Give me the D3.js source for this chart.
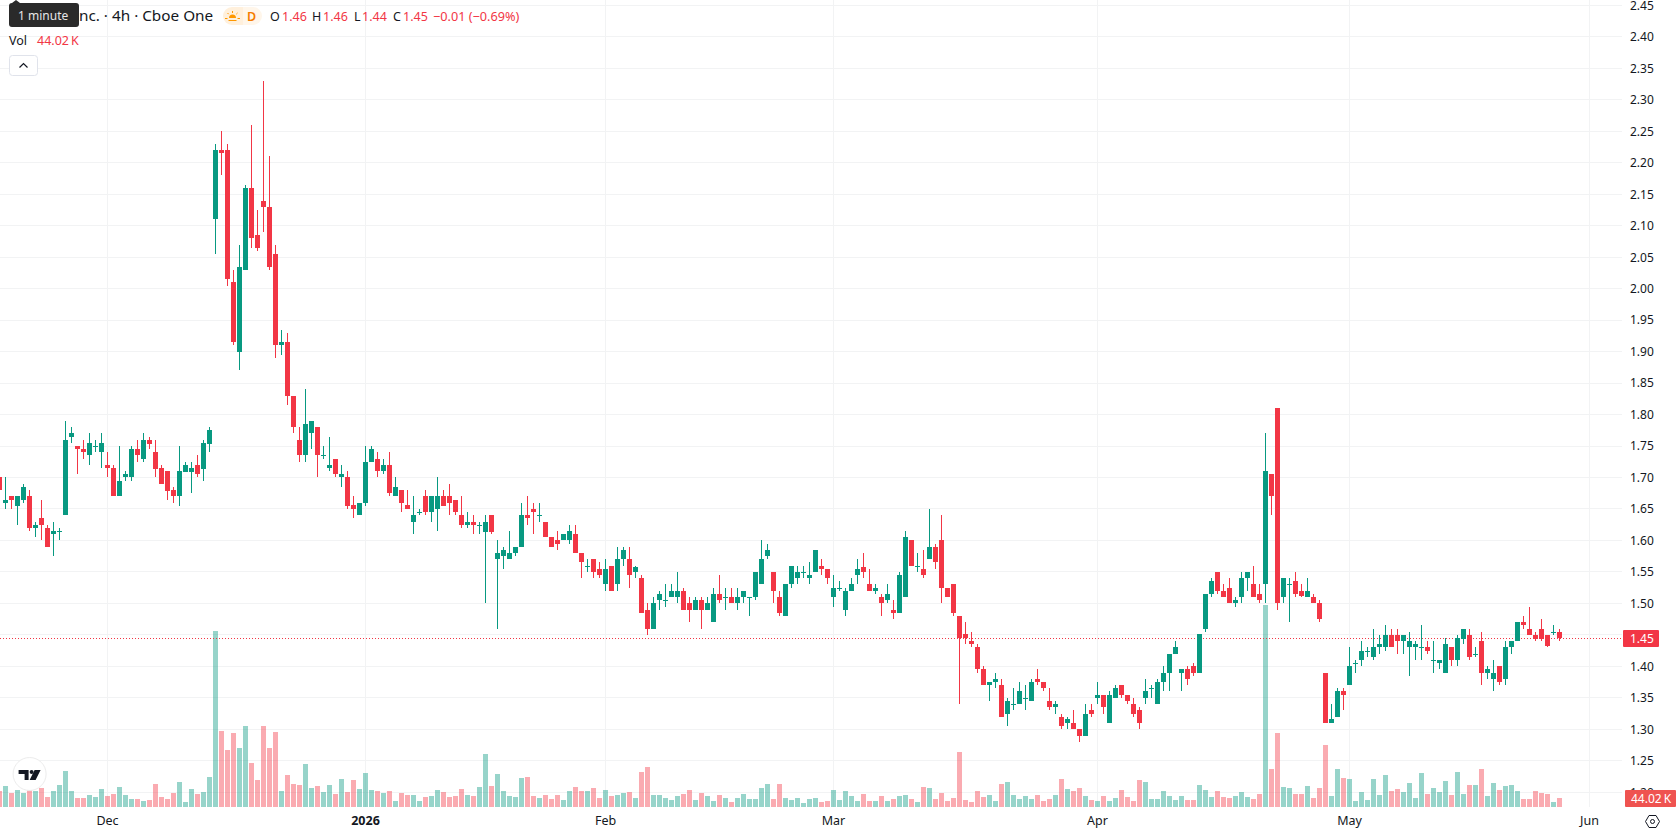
<!DOCTYPE html>
<html>
<head>
<meta charset="utf-8">
<title>4h candlestick chart</title>
<script src="https://cdn.jsdelivr.net/npm/d3@7/dist/d3.min.js"></script>
<style>
  html, body { margin: 0; padding: 0; background: #fff; overflow: hidden; }
  svg { display: block; }
  text { font-family: "Noto Sans", sans-serif; }
</style>
</head>
<body>
<div id="chart"></div>
<script>
// Four-hour bars, oldest first.
const opens = [1.70,
 1.66,1.67,1.655,1.665,1.67,1.62,1.635,1.62,1.61,1.613,
 1.64,1.765,1.75,1.745,1.735,1.75,1.74,1.72,1.715,1.67,
 1.70,1.70,1.745,1.73,1.76,1.74,1.715,1.71,1.68,1.67,
 1.708,1.708,1.72,1.713,1.753,2.11,2.22,2.22,2.01,1.90,
 2.03,2.16,2.085,2.14,2.13,2.055,1.91,1.915,1.83,1.76,
 1.735,1.77,1.78,1.735,1.715,1.73,1.70,1.70,1.657,1.64,
 1.66,1.725,1.73,1.71,1.72,1.67,1.68,1.657,1.63,1.645,
 1.67,1.645,1.65,1.67,1.67,1.665,1.64,1.625,1.63,1.625,
 1.613,1.64,1.57,1.575,1.57,1.58,1.59,1.64,1.65,1.64,
 1.63,1.605,1.60,1.60,1.60,1.61,1.58,1.56,1.57,1.555,
 1.53,1.56,1.53,1.57,1.57,1.55,1.54,1.49,1.46,1.505,
 1.505,1.51,1.51,1.52,1.50,1.49,1.505,1.49,1.47,1.515,
 1.51,1.51,1.50,1.51,1.51,1.51,1.53,1.575,1.55,1.51,
 1.48,1.53,1.54,1.55,1.54,1.55,1.56,1.555,1.51,1.525,
 1.49,1.52,1.545,1.557,1.53,1.52,1.51,1.505,1.49,1.485,
 1.51,1.60,1.56,1.555,1.57,1.59,1.60,1.525,1.53,1.48,
 1.452,1.44,1.43,1.395,1.37,1.375,1.37,1.325,1.34,1.34,
 1.35,1.345,1.38,1.375,1.345,1.335,1.32,1.31,1.31,1.30,
 1.29,1.33,1.35,1.355,1.31,1.35,1.37,1.355,1.34,1.33,
 1.35,1.365,1.34,1.375,1.39,1.42,1.39,1.395,1.40,1.39,
 1.46,1.515,1.55,1.52,1.525,1.50,1.51,1.54,1.53,1.515,
 1.53,1.705,1.81,1.51,1.53,1.535,1.52,1.51,1.51,1.50,
 1.39,1.31,1.32,1.36,1.37,1.405,1.41,1.425,1.415,1.43,
 1.43,1.45,1.45,1.44,1.43,1.43,1.43,1.43,1.41,1.405,
 1.39,1.43,1.41,1.443,1.45,1.42,1.44,1.39,1.38,1.40,
 1.38,1.43,1.44,1.47,1.46,1.45,1.46,1.45,1.455,1.455];

const highs = [1.70,
 1.70,1.67,1.67,1.69,1.68,1.63,1.665,1.625,1.63,1.62,
 1.79,1.78,1.75,1.76,1.77,1.76,1.77,1.74,1.72,1.75,
 1.71,1.75,1.76,1.77,1.765,1.76,1.72,1.71,1.685,1.75,
 1.725,1.725,1.735,1.76,1.78,2.23,2.25,2.23,2.03,2.07,
 2.165,2.26,2.125,2.33,2.21,2.07,1.935,1.93,1.83,1.78,
 1.84,1.79,1.78,1.75,1.765,1.73,1.72,1.71,1.67,1.66,
 1.75,1.75,1.74,1.73,1.74,1.70,1.68,1.68,1.67,1.65,
 1.68,1.67,1.70,1.68,1.69,1.665,1.67,1.645,1.64,1.63,
 1.64,1.64,1.60,1.59,1.615,1.59,1.66,1.67,1.66,1.66,
 1.63,1.605,1.615,1.61,1.625,1.625,1.58,1.57,1.57,1.565,
 1.57,1.56,1.59,1.59,1.59,1.56,1.545,1.50,1.51,1.52,
 1.53,1.53,1.55,1.525,1.51,1.51,1.51,1.51,1.525,1.545,
 1.525,1.525,1.525,1.52,1.51,1.55,1.60,1.595,1.55,1.52,
 1.53,1.56,1.56,1.56,1.565,1.585,1.57,1.555,1.545,1.535,
 1.525,1.54,1.57,1.58,1.555,1.53,1.515,1.53,1.505,1.55,
 1.615,1.60,1.58,1.585,1.65,1.595,1.64,1.525,1.53,1.48,
 1.47,1.455,1.435,1.40,1.375,1.39,1.38,1.35,1.365,1.375,
 1.37,1.38,1.395,1.375,1.365,1.345,1.325,1.32,1.33,1.30,
 1.34,1.34,1.375,1.355,1.36,1.37,1.37,1.355,1.35,1.335,
 1.38,1.37,1.38,1.40,1.42,1.44,1.395,1.40,1.405,1.452,
 1.515,1.54,1.55,1.53,1.54,1.51,1.55,1.55,1.56,1.53,
 1.77,1.705,1.81,1.54,1.54,1.55,1.53,1.54,1.515,1.505,
 1.39,1.34,1.365,1.365,1.43,1.41,1.44,1.43,1.46,1.45,
 1.465,1.46,1.46,1.45,1.455,1.44,1.465,1.44,1.44,1.41,
 1.445,1.43,1.45,1.46,1.46,1.43,1.455,1.40,1.41,1.40,
 1.44,1.44,1.47,1.48,1.495,1.455,1.475,1.45,1.465,1.46];

const lows = [1.68,
 1.65,1.65,1.625,1.66,1.615,1.605,1.60,1.59,1.575,1.60,
 1.64,1.755,1.705,1.73,1.72,1.74,1.715,1.70,1.67,1.67,
 1.695,1.695,1.725,1.725,1.745,1.70,1.69,1.665,1.66,1.655,
 1.708,1.675,1.70,1.695,1.74,2.055,2.18,2.005,1.91,1.87,
 2.03,2.065,2.06,2.09,2.03,1.89,1.895,1.815,1.77,1.725,
 1.725,1.745,1.70,1.73,1.71,1.70,1.685,1.65,1.635,1.64,
 1.655,1.725,1.70,1.705,1.67,1.67,1.645,1.65,1.61,1.64,
 1.64,1.63,1.615,1.655,1.64,1.64,1.62,1.62,1.61,1.61,
 1.50,1.61,1.46,1.555,1.57,1.575,1.59,1.625,1.61,1.63,
 1.605,1.59,1.585,1.60,1.595,1.58,1.54,1.55,1.54,1.54,
 1.52,1.52,1.52,1.56,1.525,1.54,1.485,1.45,1.46,1.49,
 1.495,1.51,1.50,1.49,1.47,1.49,1.46,1.49,1.47,1.50,
 1.49,1.50,1.49,1.50,1.48,1.505,1.53,1.57,1.50,1.48,
 1.48,1.525,1.53,1.54,1.53,1.55,1.545,1.53,1.495,1.52,
 1.48,1.52,1.53,1.54,1.52,1.515,1.48,1.50,1.475,1.485,
 1.51,1.56,1.55,1.54,1.57,1.555,1.50,1.51,1.48,1.34,
 1.435,1.43,1.39,1.37,1.345,1.365,1.32,1.305,1.33,1.34,
 1.33,1.345,1.37,1.36,1.33,1.325,1.30,1.30,1.30,1.28,
 1.29,1.32,1.34,1.325,1.31,1.35,1.35,1.34,1.32,1.30,
 1.34,1.35,1.34,1.36,1.36,1.42,1.36,1.37,1.385,1.39,
 1.455,1.51,1.515,1.51,1.50,1.495,1.50,1.52,1.51,1.50,
 1.50,1.64,1.49,1.50,1.47,1.51,1.51,1.51,1.50,1.47,
 1.31,1.31,1.32,1.33,1.37,1.39,1.40,1.415,1.41,1.42,
 1.425,1.43,1.42,1.42,1.385,1.41,1.41,1.42,1.39,1.395,
 1.39,1.40,1.40,1.435,1.41,1.415,1.37,1.38,1.36,1.37,
 1.37,1.42,1.44,1.46,1.45,1.44,1.44,1.43,1.45,1.44];

const closes = [1.68,
 1.665,1.665,1.67,1.685,1.62,1.625,1.625,1.59,1.615,1.615,
 1.76,1.77,1.745,1.74,1.755,1.75,1.755,1.715,1.67,1.695,
 1.705,1.745,1.735,1.76,1.753,1.713,1.69,1.678,1.67,1.71,
 1.72,1.715,1.705,1.755,1.775,2.22,2.215,2.015,1.915,2.035,
 2.16,2.08,2.065,2.13,2.035,1.91,1.915,1.83,1.78,1.735,
 1.785,1.79,1.735,1.735,1.72,1.705,1.705,1.655,1.65,1.66,
 1.725,1.745,1.71,1.72,1.675,1.685,1.66,1.65,1.64,1.645,
 1.645,1.67,1.67,1.655,1.66,1.645,1.625,1.63,1.625,1.625,
 1.63,1.613,1.58,1.585,1.58,1.59,1.64,1.635,1.645,1.64,
 1.605,1.59,1.595,1.61,1.615,1.58,1.565,1.56,1.55,1.545,
 1.555,1.52,1.57,1.585,1.545,1.557,1.485,1.46,1.50,1.515,
 1.505,1.52,1.52,1.49,1.49,1.505,1.49,1.50,1.515,1.505,
 1.51,1.50,1.51,1.52,1.51,1.55,1.57,1.585,1.52,1.485,
 1.53,1.56,1.55,1.55,1.545,1.585,1.555,1.54,1.525,1.525,
 1.52,1.53,1.555,1.55,1.52,1.525,1.50,1.515,1.485,1.545,
 1.605,1.56,1.56,1.545,1.59,1.565,1.525,1.51,1.485,1.445,
 1.445,1.435,1.395,1.37,1.375,1.38,1.32,1.345,1.34,1.36,
 1.35,1.375,1.375,1.365,1.335,1.34,1.305,1.317,1.30,1.29,
 1.325,1.325,1.355,1.335,1.355,1.365,1.355,1.345,1.325,1.31,
 1.36,1.365,1.375,1.39,1.42,1.43,1.395,1.38,1.39,1.452,
 1.515,1.535,1.52,1.51,1.50,1.505,1.54,1.55,1.51,1.505,
 1.71,1.67,1.50,1.54,1.53,1.515,1.512,1.52,1.50,1.475,
 1.31,1.317,1.36,1.355,1.40,1.405,1.425,1.425,1.43,1.435,
 1.45,1.43,1.44,1.45,1.44,1.435,1.43,1.425,1.41,1.41,
 1.435,1.41,1.445,1.46,1.415,1.42,1.39,1.395,1.39,1.375,
 1.43,1.44,1.47,1.465,1.45,1.443,1.443,1.433,1.455,1.445];

// Traded volume per bar, in thousands of shares.
const volumes = [78,
 103,68,83,68,83,78,93,49,78,108,
 176,78,44,44,59,49,88,54,64,98,
 59,39,39,29,34,112,49,39,68,122,
 24,88,64,73,147,861,372,279,362,288,
 398,215,132,398,288,367,78,156,112,108,
 210,93,103,73,108,64,137,73,132,88,
 166,83,78,68,78,29,68,59,59,29,
 49,54,83,73,49,54,88,59,54,98,
 259,103,161,78,54,49,142,147,54,44,
 59,39,59,34,78,98,78,78,93,44,
 83,54,59,68,73,44,171,196,59,59,
 44,34,54,64,83,34,68,54,29,59,
 44,24,44,64,39,39,93,112,39,112,
 44,34,44,20,39,44,24,29,83,34,
 78,54,29,64,29,29,54,29,39,54,
 59,39,24,98,93,39,68,29,44,269,
 34,24,78,49,59,29,112,122,59,39,
 54,39,59,29,39,59,137,88,78,93,
 54,34,29,54,29,44,83,49,29,132,
 122,39,39,78,54,34,54,34,34,108,
 83,49,78,49,44,54,73,49,39,64,
 988,186,362,98,93,64,64,103,44,93,
 303,54,186,142,137,29,73,34,137,59,
 156,78,88,73,117,44,166,64,93,73,
 127,59,171,64,108,108,186,54,117,83,
 103,108,78,39,39,78,68,64,24,44.02];

// Axis ticks.
const priceTicks = [2.45,2.40,2.35,2.30,2.25,2.20,2.15,2.10,2.05,2.00,1.95,1.90,1.85,
  1.80,1.75,1.70,1.65,1.60,1.55,1.50,1.45,1.40,1.35,1.30,1.25,1.20];
const timeTickBars = [18,61,101,139,183,225,265];
const timeTickLabels = ["Dec","2026","Feb","Mar","Apr","May","Jun"];

// Latest bar readouts.
const lastClose = 1.445;
const legendValues = ["1.46","1.46","1.44","1.45"];
const legendChange = "\u22120.01 (\u22120.69%)";
const lastVolumeLabel = "44.02\u2009K";

const UP = "#089981", DOWN = "#F23645";
const VOL_UP = "rgba(8,153,129,0.42)", VOL_DOWN = "rgba(242,54,69,0.42)";
const INK = "#131722", GRID = "#f2f3f4";

const width = 1678, height = 835;
const plotRight = 1622, plotBottom = 807;

const x = d3.scaleLinear().domain([0, 1]).range([-0.5, 5.5]);
const y = d3.scaleLinear().domain([2.45, 1.20]).range([5.4, 792.2]);
const yVol = d3.scaleLinear().domain([0, 988]).range([plotBottom, 605]);

const bars = opens.map((o, i) => ({
  i, o, h: highs[i], l: lows[i], c: closes[i], v: volumes[i], up: closes[i] >= o
}));

const svg = d3.select("#chart").append("svg")
  .attr("width", width).attr("height", height)
  .attr("viewBox", [0, 0, width, height]);

svg.append("rect").attr("width", width).attr("height", height).attr("fill", "#fff");

// Background grid.
const grid = svg.append("g").attr("shape-rendering", "crispEdges")
  .attr("stroke", GRID).attr("stroke-width", 1);
grid.selectAll("line.h").data(priceTicks).join("line").attr("class", "h")
  .attr("x1", 0).attr("x2", plotRight)
  .attr("y1", d => Math.floor(y(d)) + 0.5).attr("y2", d => Math.floor(y(d)) + 0.5);
grid.selectAll("line.v").data(timeTickBars).join("line").attr("class", "v")
  .attr("y1", 0).attr("y2", plotBottom)
  .attr("x1", d => Math.floor(x(d)) + 0.5).attr("x2", d => Math.floor(x(d)) + 0.5);

// Volume histogram sits behind the candles.
svg.append("g").attr("shape-rendering", "crispEdges")
  .selectAll("rect").data(bars).join("rect")
  .attr("x", d => x(d.i) - 2.5).attr("width", 5)
  .attr("y", d => Math.round(yVol(d.v)))
  .attr("height", d => plotBottom - Math.round(yVol(d.v)))
  .attr("fill", d => d.up ? VOL_UP : VOL_DOWN);

// Last-price line, snapped to the nearest pixel row.
const lastY = Math.round(y(lastClose)) + 0.5;
svg.append("line")
  .attr("x1", 0).attr("x2", plotRight)
  .attr("y1", lastY).attr("y2", lastY)
  .attr("stroke", DOWN).attr("stroke-width", 1).attr("stroke-dasharray", "1 2");

// Candles: wick plus body.
const candles = svg.append("g").attr("shape-rendering", "crispEdges")
  .selectAll("g").data(bars).join("g")
  .attr("fill", d => d.up ? UP : DOWN);
candles.append("rect")
  .attr("x", d => x(d.i) - 0.5).attr("width", 1)
  .attr("y", d => Math.round(y(d.h)))
  .attr("height", d => Math.max(1, Math.round(y(d.l)) - Math.round(y(d.h))));
candles.append("rect")
  .attr("x", d => x(d.i) - 2.5).attr("width", 5)
  .attr("y", d => Math.round(y(Math.max(d.o, d.c))))
  .attr("height", d => Math.max(1, Math.round(y(Math.min(d.o, d.c))) - Math.round(y(Math.max(d.o, d.c)))));

// Price scale on the right.
const yAxis = d3.axisRight(y).tickValues(priceTicks).tickSize(0).tickPadding(0)
  .tickFormat(d3.format(".2f"));
const yAxisG = svg.append("g").attr("transform", "translate(1630,0)").call(yAxis);
yAxisG.select(".domain").remove();
yAxisG.selectAll("text").attr("fill", INK).attr("font-size", 12)
  .style("font-family", '"Noto Sans", sans-serif');

// Time scale along the bottom.
const xAxis = d3.axisBottom(x).tickValues(timeTickBars).tickSize(0).tickPadding(0)
  .tickFormat((d, i) => timeTickLabels[i]);
const xAxisG = svg.append("g").attr("transform", "translate(-0.5,816.5)").call(xAxis);
xAxisG.select(".domain").remove();
xAxisG.selectAll("text").attr("fill", INK).attr("font-size", 12.5)
  .style("font-family", '"Noto Sans", sans-serif')
  .attr("font-weight", d => d === 61 ? 700 : 400);

// Last-price and last-volume tags.
const tagPrice = svg.append("g");
tagPrice.append("rect").attr("x", 1623).attr("y", lastY - 8.5)
  .attr("width", 36).attr("height", 17).attr("rx", 1).attr("fill", DOWN);
tagPrice.append("text").attr("x", 1630).attr("y", lastY + 4.5)
  .attr("font-size", 12).attr("fill", "#fff").text(legendValues[3]);

const tagVol = svg.append("g");
tagVol.append("rect").attr("x", 1625).attr("y", 790).attr("width", 51).attr("height", 17)
  .attr("rx", 1).attr("fill", "#ef5350");
tagVol.append("text").attr("x", 1631).attr("y", 802.5)
  .attr("font-size", 12).attr("fill", "#fff").text(lastVolumeLabel);

// Settings hexagon at the bottom-right corner.
const hex = svg.append("g").attr("transform", "translate(1652.5,821.5)")
  .attr("fill", "none").attr("stroke", INK).attr("stroke-width", 1);
hex.append("path").attr("d", "M-7,0 L-3.5,-6 L3.5,-6 L7,0 L3.5,6 L-3.5,6 Z");
hex.append("circle").attr("r", 2);

// Legend: title row.
const legend = svg.append("g");
legend.append("text").attr("x", 79).attr("y", 21).attr("font-size", 15.3)
  .attr("fill", INK).text("nc. \u00b7 4h \u00b7 Cboe One");

legend.append("path").attr("d", "M232,7 H252 V25 H232 A9,9 0 0 1 232,7 Z").attr("fill", "#fff0dc");
legend.append("path").attr("d", "M243,7 H253 A9,9 0 0 1 253,25 H243 Z").attr("fill", "#fff6ea");
const sun = legend.append("g").attr("transform", "translate(232.5,18)")
  .attr("stroke", "#ff9800").attr("stroke-width", 1);
sun.append("path").attr("d", "M-3.5,0 A3.5,3.5 0 0 1 3.5,0 Z").attr("fill", "#ff9800").attr("stroke", "none");
sun.append("path").attr("d", "M-7.5,0.5 H-5 M5,0.5 H7.5 M0,-7 V-5 M-5,-5 L-3.8,-3.8 M5,-5 L3.8,-3.8 M-4,2.5 H4").attr("fill", "none");
legend.append("text").attr("x", 247).attr("y", 21).attr("font-size", 12.5)
  .attr("font-weight", 600).attr("fill", "#f57c00").text("D");

const ohlcLetters = [["O", 270, 282], ["H", 312, 323], ["L", 354, 362], ["C", 393, 403]];
ohlcLetters.forEach(([k, lx, vx], i) => {
  legend.append("text").attr("x", lx).attr("y", 21).attr("font-size", 12.5).attr("fill", INK).text(k);
  legend.append("text").attr("x", vx).attr("y", 21).attr("font-size", 12.5).attr("fill", DOWN).text(legendValues[i]);
});
legend.append("text").attr("x", 433).attr("y", 21).attr("font-size", 12.7).attr("fill", DOWN).text(legendChange);

// Legend: volume row and collapse button.
legend.append("text").attr("x", 9).attr("y", 45).attr("font-size", 12.5).attr("fill", INK).text("Vol");
legend.append("text").attr("x", 37).attr("y", 45).attr("font-size", 12.5).attr("fill", DOWN).text(lastVolumeLabel);
legend.append("rect").attr("x", 9.5).attr("y", 55.5).attr("width", 28).attr("height", 20).attr("rx", 3)
  .attr("fill", "#fff").attr("stroke", "#e0e3eb");
legend.append("path").attr("d", "M19.5,67.5 L23.5,63.5 L27.5,67.5")
  .attr("fill", "none").attr("stroke", INK).attr("stroke-width", 1.2);

// Hover tooltip over the start of the title.
const tip = svg.append("g");
tip.append("path").attr("d", "M12,3 L16,0 L20,3 H76 A3,3 0 0 1 79,6 V24 A3,3 0 0 1 76,27 H12 A3,3 0 0 1 9,24 V6 A3,3 0 0 1 12,3 Z")
  .attr("fill", "#2a2a2a");
tip.append("text").attr("x", 18).attr("y", 20).attr("font-size", 12).attr("fill", "#e6e6e6").text("1 minute");

// Watermark badge.
const mark = svg.append("g").attr("transform", "translate(29.6,774)");
mark.append("circle").attr("r", 16.5).attr("fill", "#fff").attr("stroke", "#ececec").attr("stroke-width", 1);
mark.append("path").attr("fill", "#131722")
  .attr("d", "M-11,-4 H-1 V6 H-5 V0 H-11 Z M5,-4 H11 L6,6 H0 Z");
mark.append("circle").attr("cx", 2).attr("cy", -2).attr("r", 2).attr("fill", "#131722");
</script>
</body>
</html>
